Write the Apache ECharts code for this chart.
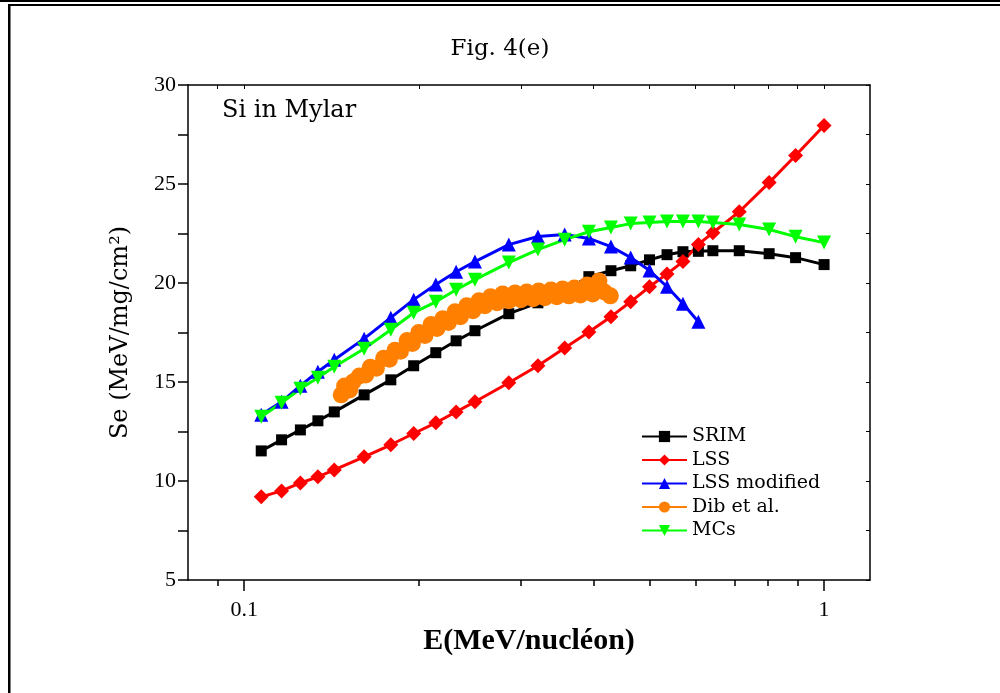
<!DOCTYPE html>
<html>
<head>
<meta charset="utf-8">
<script src="https://cdn.jsdelivr.net/npm/echarts@6/dist/echarts.min.js"></script>
<style>
html,body{margin:0;padding:0;background:#fff;}
#chart{width:1000px;height:693px;}
</style>
</head>
<body>
<div id="chart"></div>
<script>
// ---- data ----
const energies = [0.107, 0.116, 0.125, 0.134, 0.143, 0.161, 0.179, 0.196, 0.214, 0.232, 0.25, 0.286, 0.321, 0.357, 0.393, 0.429, 0.464, 0.5, 0.536, 0.571, 0.607, 0.643, 0.714, 0.804, 0.893, 1.0];
const srimSe = [11.52, 12.08, 12.58, 13.04, 13.49, 14.35, 15.11, 15.82, 16.48, 17.08, 17.59, 18.45, 19.0, 19.6, 20.32, 20.62, 20.87, 21.17, 21.43, 21.58, 21.6, 21.63, 21.63, 21.48, 21.28, 20.93];
const lssSe = [9.2, 9.5, 9.9, 10.21, 10.56, 11.22, 11.83, 12.4, 12.94, 13.49, 14.0, 14.96, 15.82, 16.72, 17.52, 18.3, 19.05, 19.81, 20.46, 21.08, 21.95, 22.54, 23.6, 25.07, 26.44, 27.95];
const lssModSe = [13.34, 14.0, 14.81, 15.52, 16.12, 17.19, 18.25, 19.16, 19.92, 20.57, 21.08, 21.94, 22.35, 22.45, 22.25, 21.84, 21.29, 20.63, 19.81, 18.95, 18.04];
const mcsSe = [13.24, 13.95, 14.66, 15.21, 15.77, 16.68, 17.64, 18.5, 19.05, 19.66, 20.17, 21.03, 21.69, 22.19, 22.59, 22.8, 23.0, 23.05, 23.1, 23.1, 23.1, 23.05, 22.95, 22.7, 22.34, 22.04];
const dibE = [0.147, 0.149, 0.152, 0.154, 0.158, 0.162, 0.165, 0.169, 0.174, 0.178, 0.182, 0.186, 0.191, 0.195, 0.200, 0.205, 0.210, 0.215, 0.220, 0.225, 0.231, 0.236, 0.242, 0.248, 0.254, 0.260, 0.266, 0.273, 0.279, 0.286, 0.293, 0.300, 0.307, 0.315, 0.322, 0.330, 0.338, 0.346, 0.354, 0.363, 0.371, 0.380, 0.390, 0.399, 0.409, 0.418, 0.428];
const dibSe = [14.35, 14.8, 14.6, 15.0, 15.3, 15.35, 15.75, 15.7, 16.2, 16.15, 16.6, 16.55, 17.1, 16.95, 17.5, 17.35, 17.9, 17.7, 18.2, 18.0, 18.55, 18.3, 18.85, 18.6, 19.1, 18.85, 19.3, 19.0, 19.45, 19.1, 19.5, 19.15, 19.55, 19.2, 19.6, 19.25, 19.65, 19.3, 19.7, 19.35, 19.75, 19.4, 19.9, 19.45, 20.1, 19.55, 19.35];
const xMajorTicks = [0.1, 1];
const xMinorTicks = [0.09, 0.2, 0.3, 0.4, 0.5, 0.6, 0.7, 0.8, 0.9];
const seriesNames = ['SRIM', 'LSS', 'LSS modified', 'Dib et al.', 'MCs'];
const seriesColors = ['#000000', '#ff0000', '#0000ff', '#ff8000', '#00ff00'];

function pairs(xs, ys) { return ys.map((y, i) => [xs[i], y]); }

const serif = 'DejaVu Serif';
const chart = echarts.init(document.getElementById('chart'));

const xBase = {type: 'log', logBase: 10, min: 0.08, max: 1.2, gridIndex: 0, splitLine: {show: false}};
const yBase = {type: 'value', min: 5, max: 30, interval: 2.5, splitLine: {show: false}};

chart.setOption({
  animation: false,
  backgroundColor: '#ffffff',
  title: {
    text: 'Fig. 4(e)', left: 'center', top: 33,
    textStyle: {fontFamily: serif, fontSize: 23, fontWeight: 'normal', color: '#000'}
  },
  grid: {left: 188, right: 130, top: 85, bottom: 113},
  legend: {
    orient: 'vertical', left: 641, top: 427, padding: 0,
    itemWidth: 45, itemHeight: 14, itemGap: 4.5,
    textStyle: {fontFamily: serif, fontSize: 19, color: '#000'},
    data: seriesNames
  },
  xAxis: [
    Object.assign({}, xBase, {
      position: 'bottom',
      name: 'E(MeV/nucléon)', nameLocation: 'middle', nameGap: 44,
      nameTextStyle: {fontFamily: 'Liberation Serif', fontWeight: 'bold', fontSize: 30, color: '#000'},
      axisLine: {show: true, lineStyle: {color: '#000', width: 1.5}},
      axisTick: {show: true, length: 11, customValues: xMajorTicks, lineStyle: {color: '#000', width: 1.5}},
      axisLabel: {show: true, customValues: xMajorTicks, margin: 19, fontFamily: 'Liberation Serif', fontSize: 22, color: '#000',
        formatter: v => (Math.abs(v - 1) < 1e-9 ? '1' : String(+v.toPrecision(3)))}
    }),
    Object.assign({}, xBase, {
      position: 'bottom',
      axisLine: {show: false},
      axisTick: {show: true, length: 6, customValues: xMinorTicks, lineStyle: {color: '#000', width: 1.5}},
      axisLabel: {show: false}
    }),
    Object.assign({}, xBase, {
      position: 'top',
      axisLine: {show: true, lineStyle: {color: '#000', width: 1.5}},
      axisTick: {show: true, inside: true, length: 4, customValues: xMinorTicks.concat(xMajorTicks), lineStyle: {color: '#000', width: 1}},
      axisLabel: {show: false}
    })
  ],
  yAxis: [
    Object.assign({}, yBase, {
      position: 'left',
      name: 'Se (MeV/mg/cm²)', nameLocation: 'middle', nameGap: 55, nameRotate: 90,
      nameTextStyle: {fontFamily: serif, fontSize: 24, color: '#000'},
      axisLine: {show: true, lineStyle: {color: '#000', width: 1.5}},
      axisTick: {show: true, length: 10, lineStyle: {color: '#000', width: 1.5}},
      axisLabel: {margin: 12, fontFamily: 'Liberation Serif', fontSize: 22, color: '#000',
        formatter: v => (v % 5 === 0 ? String(v) : '')}
    }),
    Object.assign({}, yBase, {
      position: 'right',
      axisLine: {show: true, lineStyle: {color: '#000', width: 1.5}},
      axisTick: {show: true, inside: true, length: 4, lineStyle: {color: '#000', width: 1}},
      axisLabel: {show: false}
    })
  ],
  graphic: [
    {type: 'rect', left: 0, top: 0, shape: {width: 1000, height: 2}, style: {fill: '#000'}},
    {type: 'rect', left: 8, top: 4, shape: {width: 992, height: 2}, style: {fill: '#000'}},
    {type: 'rect', left: 8, top: 4, shape: {width: 2.5, height: 689}, style: {fill: '#000'}},
    {type: 'text', left: 222, top: 99, style: {text: 'Si in Mylar', font: '24px "DejaVu Serif"', fill: '#000'}}
  ],
  series: [
    {name: seriesNames[0], type: 'line', data: pairs(energies, srimSe), symbol: 'rect', symbolSize: 11,
      itemStyle: {color: seriesColors[0]}, lineStyle: {color: seriesColors[0], width: 3}},
    {name: seriesNames[1], type: 'line', data: pairs(energies, lssSe), symbol: 'diamond', symbolSize: 15,
      itemStyle: {color: seriesColors[1]}, lineStyle: {color: seriesColors[1], width: 3}},
    {name: seriesNames[2], type: 'line', data: pairs(energies, lssModSe), symbol: 'triangle', symbolSize: 14,
      itemStyle: {color: seriesColors[2]}, lineStyle: {color: seriesColors[2], width: 3}},
    {name: seriesNames[3], type: 'line', data: pairs(dibE, dibSe), symbol: 'circle', symbolSize: 17,
      itemStyle: {color: seriesColors[3]}, lineStyle: {color: seriesColors[3], width: 3}},
    {name: seriesNames[4], type: 'line', data: pairs(energies, mcsSe), symbol: 'triangle', symbolRotate: 180, symbolSize: 14,
      itemStyle: {color: seriesColors[4]}, lineStyle: {color: seriesColors[4], width: 3}}
  ]
});
</script>
</body>
</html>
